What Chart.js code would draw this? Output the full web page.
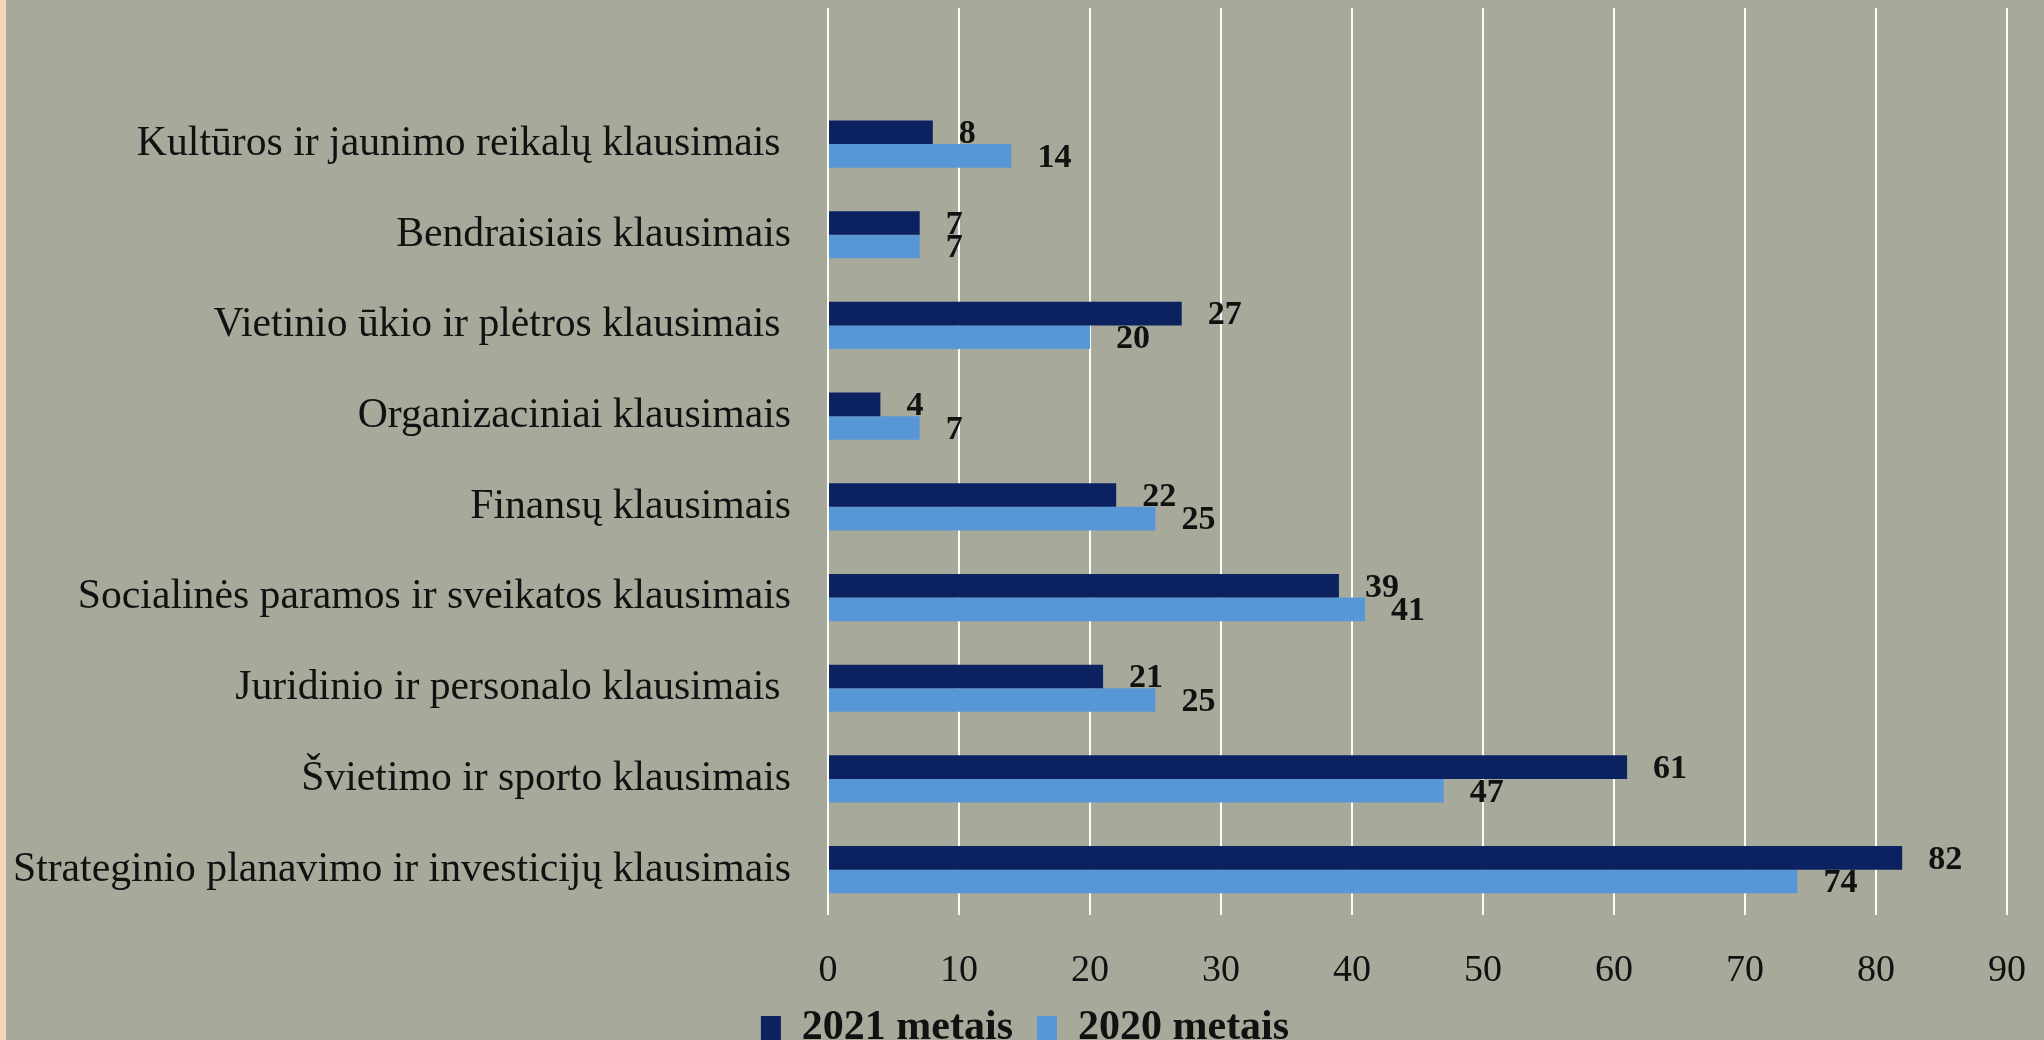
<!DOCTYPE html>
<html>
<head>
<meta charset="utf-8">
<script src="https://cdn.jsdelivr.net/npm/chart.js@4/dist/chart.umd.min.js"></script>
<style>
  html, body { margin: 0; padding: 0; width: 2044px; height: 1040px; overflow: hidden; background: #F7D3BA; }
  #wrap { position: absolute; left: 6px; top: 0; width: 2038px; height: 1059px; background: #A7AA9B; }
  canvas { display: block; }
</style>
</head>
<body>
<div id="wrap"><canvas id="c" width="2038" height="1059"></canvas></div>
<script>
// Categories (top to bottom as shown)
const categories = [
  "Kultūros ir jaunimo reikalų klausimais ",
  "Bendraisiais klausimais",
  "Vietinio ūkio ir plėtros klausimais ",
  "Organizaciniai klausimais",
  "Finansų klausimais",
  "Socialinės paramos ir sveikatos klausimais",
  "Juridinio ir personalo klausimais ",
  "Švietimo ir sporto klausimais",
  "Strateginio planavimo ir investicijų klausimais"
];
const values2021 = [8, 7, 27, 4, 22, 39, 21, 61, 82];
const values2020 = [14, 7, 20, 7, 25, 41, 25, 47, 74];
const seriesNames = ["2021 metais", "2020 metais"];
const xTicksMin = 0, xTicksMax = 90, xTickStep = 10;

const FONT = "'Liberation Serif', 'Times New Roman', serif";
const TEXT = "#111111";

// Excel-style blank band above the first category
const labels = [""].concat(categories);
const d2021 = [null].concat(values2021);
const d2020 = [null].concat(values2020);

const valueLabels = {
  id: 'valueLabels',
  afterDatasetsDraw(chart) {
    const ctx = chart.ctx;
    ctx.save();
    ctx.font = "bold 34px " + FONT;
    ctx.fillStyle = TEXT;
    ctx.textAlign = 'left';
    ctx.textBaseline = 'middle';
    chart.data.datasets.forEach((ds, i) => {
      const meta = chart.getDatasetMeta(i);
      meta.data.forEach((el, j) => {
        const v = ds.data[j];
        if (v === null || v === undefined) return;
        ctx.fillText(String(v), el.x + 26, el.y + 2);
      });
    });
    ctx.restore();
  }
};

new Chart(document.getElementById('c'), {
  type: 'bar',
  data: {
    labels: labels,
    datasets: [
      { label: seriesNames[0], data: d2021, backgroundColor: '#0B2160', borderWidth: 0,
        barPercentage: 1.0, categoryPercentage: 0.52 },
      { label: seriesNames[1], data: d2020, backgroundColor: '#5797D6', borderWidth: 0,
        barPercentage: 1.0, categoryPercentage: 0.52 }
    ]
  },
  options: {
    indexAxis: 'y',
    responsive: false,
    animation: false,
    devicePixelRatio: 1,
    layout: { padding: { top: 8, left: 0, right: 0, bottom: 0 } },
    plugins: {
      title: { display: false },
      tooltip: { enabled: false },
      legend: {
        position: 'bottom',
        labels: {
          font: { family: FONT, size: 42, weight: 'bold' },
          color: TEXT,
          boxWidth: 20,
          boxHeight: 24,
          padding: 24
        }
      }
    },
    scales: {
      x: {
        type: 'linear',
        min: xTicksMin,
        max: xTicksMax,
        ticks: { stepSize: xTickStep, font: { family: FONT, size: 38 }, color: TEXT, padding: 33 },
        grid: { color: 'rgba(255,255,255,0.95)', lineWidth: 2, drawTicks: false },
        border: { display: false },
        afterFit(scale) { scale.height = 68; scale.paddingLeft = 0; scale.paddingRight = 0; }
      },
      y: {
        type: 'category',
        ticks: { font: { family: FONT, size: 41.7 }, color: TEXT, padding: 37, autoSkip: false },
        grid: { display: false, drawTicks: false },
        border: { display: false },
        afterFit(scale) { scale.width = 822; scale.paddingTop = 0; scale.paddingBottom = 0; }
      },
      yRight: {
        type: 'category',
        position: 'right',
        ticks: { display: false },
        grid: { display: false, drawTicks: false },
        border: { display: false },
        afterFit(scale) { scale.width = 37; scale.paddingTop = 0; scale.paddingBottom = 0; }
      }
    }
  },
  plugins: [valueLabels]
});
</script>
</body>
</html>
